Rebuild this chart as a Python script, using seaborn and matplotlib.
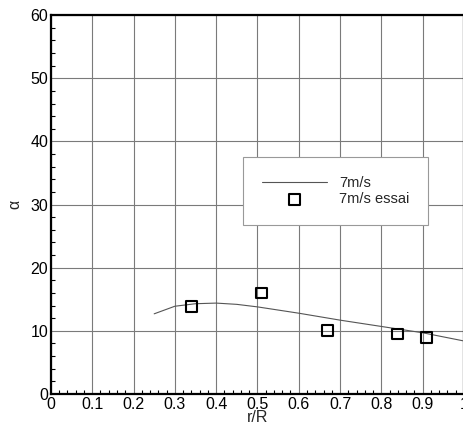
import numpy as np
import pandas as pd
import matplotlib
matplotlib.use('Agg')
import matplotlib.pyplot as plt
import seaborn as sns
from matplotlib.ticker import MultipleLocator, FuncFormatter

# computed curve (7 m/s)
r_line = [0.25, 0.30, 0.35, 0.40, 0.45, 0.50, 0.60, 0.70, 0.80, 0.90, 1.00]
alpha_line = [12.7, 13.9, 14.3, 14.4, 14.2, 13.8, 12.8, 11.7, 10.7, 9.7, 8.4]

# measured points (7 m/s essai)
r_test = [0.34, 0.51, 0.67, 0.84, 0.91]
alpha_test = [13.8, 16.0, 10.0, 9.5, 9.0]

sns.set_style('white')
plt.rcParams['font.family'] = ['Liberation Sans', 'DejaVu Sans']
plt.rcParams['font.size'] = 11

fig = plt.figure(figsize=(4.63, 4.30), dpi=100)
ax = fig.add_axes([0.110, 0.0837, 0.892, 0.881])

line_df = pd.DataFrame({'r': r_line, 'alpha': alpha_line})
test_df = pd.DataFrame({'r': r_test, 'alpha': alpha_test})

sns.lineplot(data=line_df, x='r', y='alpha', ax=ax, color='#555555',
             linewidth=0.8, label='7m/s', zorder=3)
sns.scatterplot(data=test_df, x='r', y='alpha', ax=ax, marker='s', s=60,
                facecolor='none', edgecolor='black', linewidth=1.5,
                label='7m/s essai', zorder=4)

ax.set_xlim(0, 1)
ax.set_ylim(0, 60)
ax.xaxis.set_major_locator(MultipleLocator(0.1))
ax.xaxis.set_minor_locator(MultipleLocator(0.02))
ax.yaxis.set_major_locator(MultipleLocator(10))
ax.yaxis.set_minor_locator(MultipleLocator(2))
ax.xaxis.set_major_formatter(FuncFormatter(lambda v, p: f'{v:g}'))

ax.grid(True, which='major', color='#7a7a7a', linewidth=0.8)
ax.set_axisbelow(True)
ax.tick_params(which='both', direction='in', top=False, right=False,
               colors='black', labelsize=11.5)
ax.tick_params(which='major', length=6, width=1.5, pad=2)
ax.tick_params(which='minor', length=3, width=0.8, bottom=True, left=True)

for side in ['left', 'bottom', 'top', 'right']:
    ax.spines[side].set_color('black')
    ax.spines[side].set_linewidth(1.6)

ax.set_xlabel('r/R', fontsize=11.5, labelpad=-1)
ax.set_ylabel('α', fontsize=11.5, labelpad=6)

leg = ax.legend(loc='center', bbox_to_anchor=(0.69, 0.535), frameon=True,
                fancybox=False, edgecolor='#999999', framealpha=1,
                handlelength=4.4, handletextpad=0.85, borderpad=1.3,
                labelspacing=0.15, borderaxespad=0, fontsize=10.5)
leg.get_frame().set_linewidth(0.8)

fig.savefig('out.png', dpi=100)
